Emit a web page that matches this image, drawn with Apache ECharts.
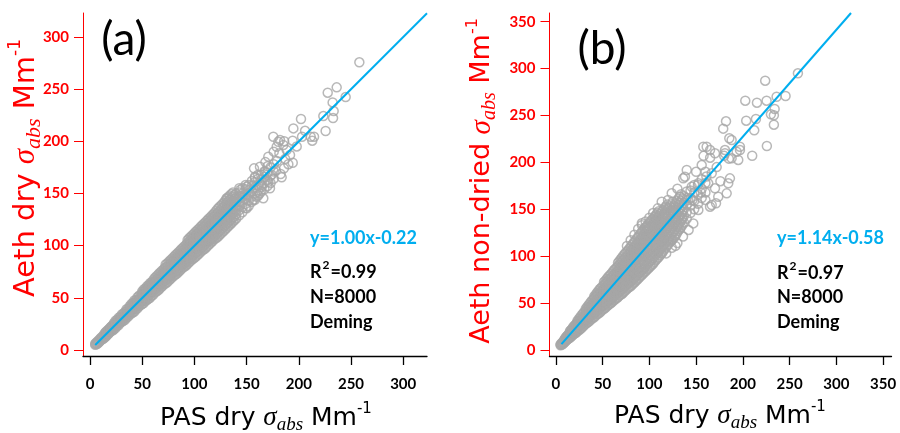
<!DOCTYPE html>
<html><head><meta charset="utf-8">
<script src="https://cdn.jsdelivr.net/npm/echarts@6/dist/echarts.min.js"></script>
<style>html,body{margin:0;padding:0;background:#fff}#c{width:900px;height:433px}</style>
</head><body><div id="c"></div>
<script>
// ---------- data ----------
const xTicksA = [0, 50, 100, 150, 200, 250, 300];
const yTicksA = [0, 50, 100, 150, 200, 250, 300];
const xTicksB = [0, 50, 100, 150, 200, 250, 300, 350];
const yTicksB = [0, 50, 100, 150, 200, 250, 300, 350];

// fit: [slope, intercept]
const fitA = [1.00, -0.22];
const fitB = [1.14, -0.58];

const statsA = ['y=1.00x-0.22', '0.99', 'N=8000', 'Deming'];
const statsB = ['y=1.14x-0.58', '0.97', 'N=8000', 'Deming'];

// dense cloud, panel (a): rows of [x, y1, y2, ...]
const bandA = [
  [5, 5, 6], [7, 6, 8], [9, 8, 10], [11, 10, 12], [13, 11, 12, 14],
  [15, 13, 15, 17], [17, 15, 17, 19], [19, 17, 19, 21], [21, 19, 21, 23],
  [23, 20, 22, 24, 26], [26, 23, 25, 27, 29], [29, 26, 28, 30, 32],
  [32, 28, 30, 33, 35], [35, 31, 33, 35, 37, 39], [38, 34, 36, 38, 40, 42],
  [41, 36, 39, 41, 43, 45], [44, 39, 41, 44, 46, 48], [47, 42, 44, 47, 49, 52],
  [50, 44, 47, 49, 52, 54, 56], [53, 47, 49, 52, 54, 57, 59], [56, 49, 52, 55, 57, 60, 62],
  [59, 52, 55, 58, 60, 63, 65], [62, 55, 58, 61, 63, 66, 69], [65, 57, 60, 63, 66, 69, 72],
  [68, 60, 63, 66, 69, 72, 75], [71, 63, 66, 69, 72, 75, 78],
  [74, 65, 68, 71, 74, 77, 80, 83], [77, 68, 71, 74, 77, 80, 83, 86],
  [80, 71, 74, 77, 80, 83, 86, 89], [83, 73, 76, 80, 83, 86, 89, 92],
  [86, 76, 79, 82, 86, 89, 92, 95], [89, 79, 82, 85, 89, 92, 95, 98],
  [92, 81, 84, 88, 91, 95, 98, 101], [95, 84, 87, 91, 94, 98, 101, 104, 107],
  [98, 87, 90, 94, 97, 101, 104, 107, 110], [101, 89, 93, 96, 100, 103, 107, 110, 113],
  [104, 92, 95, 99, 103, 106, 110, 113, 116], [107, 95, 98, 102, 105, 109, 112, 116, 119],
  [110, 97, 101, 104, 108, 112, 115, 119, 122], [113, 100, 104, 107, 111, 115, 118, 122, 125],
  [116, 103, 106, 110, 114, 118, 121, 125, 128], [119, 106, 109, 113, 117, 121, 124, 128, 131],
  [122, 108, 112, 116, 120, 124, 127, 131, 135], [125, 111, 115, 119, 123, 127, 130, 134, 138],
  [128, 114, 118, 122, 126, 130, 133, 137, 141], [131, 117, 121, 125, 129, 133, 137, 141, 145],
  [134, 120, 124, 128, 132, 136, 140, 144, 148], [137, 123, 127, 131, 135, 139, 143, 147, 151],
  [140, 126, 130, 134, 138, 142, 146, 150], [143, 129, 134, 138, 142, 147, 151, 155],
  [146, 132, 137, 141, 146, 150, 155], [149, 136, 140, 145, 149, 154, 158],
  [152, 138, 143, 148, 153, 158], [155, 142, 147, 152, 157, 162],
  [158, 144, 150, 156, 161, 165], [161, 148, 153, 158, 164, 168],
  [164, 152, 158, 163, 168], [167, 154, 160, 166, 171], [170, 157, 163, 170, 176],
  [173, 160, 167, 175], [176, 164, 171, 178]
];
// dense cloud, panel (a), points lying between the rows above
const bandA2 = [
  [6, 5.5, 7], [8, 7, 9], [10, 9, 11], [12, 10.5, 13], [14, 12, 14, 16], [16, 14, 16, 18],
  [18, 16, 18, 20], [20, 18, 20, 22], [22, 19, 21.5, 24],
  [24.5, 21, 23.5, 26, 28], [27.5, 24, 26.5, 29, 31], [30.5, 27, 29, 31.5, 34],
  [33.5, 29, 31.5, 34, 36.5], [36.5, 32, 34.5, 37, 39.5], [39.5, 35, 37.5, 40, 42.5, 44],
  [42.5, 37, 40, 42.5, 45, 47.5], [45.5, 40, 43, 45.5, 48, 50.5], [48.5, 43, 45.5, 48, 50.5, 53],
  [51.5, 45, 48, 50.5, 53, 55.5, 58], [54.5, 48, 50.5, 53.5, 56, 58.5, 61],
  [57.5, 50, 53.5, 56.5, 59, 61.5, 64], [60.5, 53, 56.5, 59.5, 62, 64.5, 67],
  [63.5, 56, 59, 62, 65, 67.5, 70.5], [66.5, 58.5, 61.5, 64.5, 67.5, 70.5, 73.5],
  [69.5, 61.5, 64.5, 67.5, 70.5, 73.5, 76.5], [72.5, 64, 67, 70, 73, 76, 79, 82],
  [75.5, 66.5, 69.5, 72.5, 75.5, 78.5, 81.5, 84.5], [78.5, 69.5, 72.5, 75.5, 78.5, 81.5, 84.5, 87.5],
  [81.5, 72, 75, 78.5, 81.5, 84.5, 87.5, 90.5], [84.5, 74.5, 77.5, 81, 84.5, 87.5, 90.5, 93.5],
  [87.5, 77.5, 80.5, 83.5, 87.5, 90.5, 93.5, 96.5], [90.5, 80, 83, 86.5, 90, 93.5, 96.5, 99.5],
  [93.5, 82.5, 85.5, 89.5, 92.5, 96.5, 99.5, 102.5, 105.5], [96.5, 85.5, 88.5, 92.5, 95.5, 99.5, 102.5, 105.5, 108.5],
  [99.5, 88, 91.5, 95, 98.5, 102, 105.5, 108.5, 111.5], [102.5, 90.5, 94, 97.5, 101.5, 104.5, 108.5, 111.5, 114.5],
  [105.5, 93.5, 96.5, 100.5, 104, 107.5, 111, 114.5, 117.5], [108.5, 96, 99.5, 103, 106.5, 110.5, 113.5, 117.5, 120.5],
  [111.5, 98.5, 102.5, 105.5, 109.5, 113.5, 116.5, 120.5, 123.5], [114.5, 101.5, 105, 108.5, 112.5, 116.5, 119.5, 123.5, 126.5],
  [117.5, 104.5, 107.5, 111.5, 115.5, 119.5, 122.5, 126.5, 129.5], [120.5, 107, 110.5, 114.5, 118.5, 122.5, 125.5, 129.5, 133],
  [123.5, 109.5, 113.5, 117.5, 121.5, 125.5, 128.5, 132.5, 136.5], [126.5, 112.5, 116.5, 120.5, 124.5, 128.5, 131.5, 135.5, 139.5],
  [129.5, 115.5, 119.5, 123.5, 127.5, 131.5, 135, 139, 143], [132.5, 118.5, 122.5, 126.5, 130.5, 134.5, 138.5, 142.5, 146.5],
  [135.5, 121.5, 125.5, 129.5, 133.5, 137.5, 141.5, 145.5, 149.5], [138.5, 124.5, 128.5, 132.5, 136.5, 140.5, 144.5, 148.5]
];
// sparse points, panel (a): [x, y]
const spreadA = [
  [258.0, 275.6], [227.7, 246.5], [236.3, 251.6], [244.9, 242.3], [232.4, 237.2],
  [223.5, 224.1], [233.4, 228.9], [232.8, 222.2], [225.7, 209.8], [202.1, 221.3],
  [194.8, 212.3], [203.1, 204.3], [211.4, 204.3], [214.6, 204.3], [212.9, 200.5],
  [194.1, 200.5], [182.0, 201.1], [178.8, 194.7], [185.2, 196.4], [188.4, 191.6],
  [181.4, 188.4], [170.8, 185.2], [191.6, 186.8], [194.2, 179.4], [185.8, 174.0],
  [182.6, 168.6], [183.6, 165.4], [162.8, 175.6], [157.1, 174.0], [167.6, 170.8],
  [158.0, 166.0], [170.8, 161.2], [164.5, 156.4], [172.4, 154.9], [162.8, 150.1],
  [150.1, 156.4], [143.7, 153.3], [130.9, 145.3], [156.4, 143.7], [166.0, 145.3],
  [150.1, 135.7], [175.6, 204.3], [180.4, 199.5], [159.7, 146.8], [145.3, 146.8],
  [179.0, 181.0], [187.0, 183.0], [176.0, 190.0], [174.0, 168.0], [190.0, 178.0],
  [198.0, 195.0], [206.0, 210.0], [186.0, 200.0], [168.0, 180.0], [178.0, 172.0]
];

// dense cloud, panel (b): rows of [x, y1, y2, ...]
const bandB = [
  [5, 5, 6], [7, 6, 8], [9, 8, 10, 11], [11, 10, 12, 14], [13, 12, 14, 16],
  [15, 13, 16, 18, 20], [17, 15, 18, 20, 22], [19, 17, 20, 22, 25], [21, 18, 21, 24, 27],
  [23, 20, 23, 26, 29, 31], [26, 22, 26, 29, 32, 35], [29, 25, 29, 32, 35, 39],
  [32, 28, 31, 35, 38, 42, 44], [35, 30, 34, 38, 41, 45, 48], [38, 33, 37, 40, 44, 48, 52],
  [41, 35, 39, 43, 47, 51, 55, 57], [44, 38, 42, 46, 50, 54, 58, 61],
  [47, 40, 44, 49, 53, 57, 61, 65], [50, 43, 47, 51, 56, 60, 64, 68],
  [53, 45, 49, 54, 58, 63, 67, 71, 74], [56, 48, 52, 57, 61, 66, 70, 74, 78],
  [59, 50, 54, 59, 64, 68, 73, 77, 81], [62, 53, 57, 62, 67, 71, 76, 80, 85],
  [65, 55, 60, 65, 70, 74, 79, 83, 88], [68, 58, 62, 67, 72, 77, 82, 87, 91, 95],
  [71, 60, 65, 70, 75, 80, 85, 90, 95, 99], [74, 63, 68, 73, 78, 83, 88, 93, 98, 103],
  [77, 66, 71, 76, 81, 86, 91, 96, 101, 106], [80, 68, 73, 79, 84, 90, 95, 100, 105, 110],
  [83, 71, 76, 82, 87, 93, 98, 103, 109, 114], [86, 74, 79, 85, 90, 96, 101, 107, 112, 118],
  [89, 77, 82, 88, 94, 100, 105, 111, 116, 122], [92, 80, 85, 91, 97, 103, 109, 114, 120, 126],
  [95, 83, 88, 94, 100, 106, 112, 118, 124, 130], [98, 86, 92, 98, 104, 110, 116, 122, 128, 133],
  [101, 89, 95, 101, 107, 113, 119, 125, 131, 137], [104, 92, 98, 104, 110, 117, 123, 129, 135, 140],
  [107, 96, 102, 108, 114, 120, 126, 133, 139, 144], [110, 99, 105, 112, 118, 124, 130, 137, 143, 148],
  [113, 103, 109, 116, 122, 128, 134, 140, 147], [116, 107, 113, 119, 126, 132, 138, 145, 151],
  [119, 111, 117, 123, 130, 136, 142, 149, 155], [122, 115, 121, 128, 134, 140, 147, 153],
  [125, 118, 125, 132, 138, 145, 151, 158], [128, 122, 129, 136, 142, 149, 156],
  [131, 127, 134, 141, 148, 155, 161], [134, 131, 138, 145, 152, 159, 166],
  [137, 136, 143, 150, 157, 164], [140, 140, 147, 155, 162, 169],
  [144, 146, 154, 162, 170], [148, 150, 159, 168, 176], [152, 156, 166, 176],
  [156, 162, 172, 182], [160, 168, 178, 190]
];
// dense cloud, panel (b), points lying between the rows above
const bandB2 = [
  [6, 5.5, 7], [8, 7, 9], [10, 9, 11, 12.5], [12, 11, 13, 15], [14, 12.5, 15, 17],
  [16, 14, 17, 19, 21], [18, 16, 19, 21, 23.5], [20, 17.5, 20.5, 23, 26], [22, 19, 22.5, 25.5, 28],
  [24.5, 21, 24.5, 27.5, 30.5, 33], [27.5, 23.5, 27.5, 30.5, 33.5, 37], [30.5, 26.5, 30, 33.5, 37, 40.5],
  [33.5, 29, 32.5, 36.5, 40, 43, 46], [36.5, 31.5, 35.5, 39, 43, 46.5, 50], [39.5, 34, 38, 41.5, 45.5, 49.5, 53.5],
  [42.5, 36.5, 40.5, 44.5, 48.5, 52.5, 56.5, 59], [45.5, 39, 43, 47.5, 51.5, 55.5, 59.5, 63],
  [48.5, 41.5, 45.5, 50, 54.5, 58.5, 62.5, 66.5], [51.5, 44, 48, 52.5, 57, 61.5, 65.5, 69.5, 72.5],
  [54.5, 46.5, 50.5, 55.5, 59.5, 64.5, 68.5, 72.5, 76], [57.5, 49, 53, 58, 62.5, 67, 71.5, 75.5, 79.5],
  [60.5, 51.5, 55.5, 60.5, 65.5, 69.5, 74.5, 78.5, 83], [63.5, 54, 58.5, 63.5, 68.5, 72.5, 77.5, 81.5, 86.5],
  [66.5, 56.5, 61, 66, 71, 75.5, 80.5, 85, 89.5, 93], [69.5, 59, 63.5, 68.5, 73.5, 78.5, 83.5, 88.5, 93, 97],
  [72.5, 61.5, 66.5, 71.5, 76.5, 81.5, 86.5, 91.5, 96.5, 101], [75.5, 64.5, 69.5, 74.5, 79.5, 84.5, 89.5, 94.5, 99.5, 104.5],
  [78.5, 67, 72, 77.5, 82.5, 88, 93, 98, 103, 108], [81.5, 69.5, 74.5, 80.5, 85.5, 91.5, 96.5, 101.5, 107, 112],
  [84.5, 72.5, 77.5, 83.5, 88.5, 94.5, 99.5, 105, 110.5, 116], [87.5, 75.5, 80.5, 86.5, 92, 98, 103, 109, 114, 120],
  [90.5, 78.5, 83.5, 89.5, 95.5, 101.5, 107, 112.5, 118, 124], [93.5, 81.5, 86.5, 92.5, 98.5, 104.5, 110.5, 116, 122, 128],
  [96.5, 84.5, 90, 96, 102, 108, 114, 120, 126, 131.5], [99.5, 87.5, 93.5, 99.5, 105.5, 111.5, 117.5, 123.5, 129.5, 135],
  [102.5, 90.5, 96.5, 102.5, 108.5, 115, 121, 127, 133, 138.5], [105.5, 94, 100, 106, 112, 118.5, 124.5, 131, 137, 142],
  [108.5, 97.5, 103.5, 110, 116, 122, 128, 135, 141, 146], [111.5, 101, 107, 114, 120, 126, 132, 138.5, 145],
  [114.5, 105, 111, 117.5, 124, 130, 136, 142.5, 149], [117.5, 109, 115, 121, 128, 134, 140, 147, 153],
  [120.5, 113, 119, 125.5, 132, 138, 144.5, 151], [123.5, 116.5, 123, 130, 136, 142.5, 149, 155.5],
  [126.5, 120, 127, 134, 140, 147, 153.5], [129.5, 124.5, 131.5, 138.5, 145, 152, 158.5],
  [132.5, 129, 136, 143, 150, 157, 163.5], [135.5, 133.5, 140.5, 147.5, 154.5, 161.5]
];
// sparse points, panel (b): [x, y]
const spreadB = [
  [258.9, 295.0], [223.9, 287.1], [236.1, 270.0], [245.7, 270.8], [225.4, 265.8],
  [215.1, 263.7], [202.6, 265.8], [234.0, 257.0], [230.0, 251.3], [233.2, 250.2],
  [214.0, 246.3], [203.6, 244.5], [182.0, 243.8], [179.0, 236.0], [212.2, 234.2],
  [233.2, 240.2], [185.5, 225.7], [225.7, 217.5], [210.0, 207.1], [196.9, 216.7],
  [180.0, 207.0], [185.0, 204.0], [161.3, 216.7], [158.0, 207.0], [165.0, 205.0],
  [184.4, 177.7], [171.3, 156.4], [164.9, 152.8], [136.3, 183.0], [140.0, 191.9],
  [161.0, 185.0], [196.9, 213.2], [180.9, 213.2], [188.0, 204.4], [157.7, 216.7],
  [164.9, 213.2], [138.1, 184.8], [152.4, 177.7], [170.2, 172.4], [182.7, 167.0],
  [193.4, 211.4], [170.2, 209.7], [180.9, 209.7], [156.0, 197.2], [166.7, 188.4],
  [166.7, 154.6], [152.4, 149.3], [123.9, 167.1], [113.2, 158.1], [145.3, 174.1],
  [141.7, 159.9], [106.1, 142.1], [131.0, 131.4], [113.2, 103.1], [91.9, 135.1],
  [95.4, 127.9], [188.0, 223.9], [195.1, 202.6], [186.2, 183.0], [163.0, 177.7],
  [173.7, 163.4], [127.5, 152.8], [116.8, 127.9], [123.9, 117.3], [150.0, 190.0],
  [172.0, 195.0], [176.0, 180.0], [146.0, 160.0], [155.0, 168.0], [130.0, 172.0],
  [120.0, 160.0], [135.0, 140.0], [102.0, 125.0], [118.0, 145.0], [160.0, 160.0],
  [76.0, 111.0], [80.0, 117.0], [84.0, 123.0], [88.0, 129.0], [92.0, 133.0],
  [96.0, 137.0], [100.0, 141.0], [104.0, 146.0], [109.0, 151.0], [98.0, 131.0],
  [118.0, 103.0], [124.0, 109.0], [130.0, 114.0], [136.0, 121.0], [128.0, 111.0],
  [142.0, 128.0], [147.0, 135.0]
];

// ---------- build ----------
function rowsToPoints(rows) {
  const out = [];
  rows.forEach(r => { for (let i = 1; i < r.length; i++) out.push([r[0], r[i]]); });
  return out;
}
const ptsA = rowsToPoints(bandA).concat(rowsToPoints(bandA2), spreadA);
const ptsB = rowsToPoints(bandB).concat(rowsToPoints(bandB2), spreadB);

const RANGE_A = { xmin: -6.7, xmax: 322.8, ymin: -5.7, ymax: 322.8 };
const RANGE_B = { xmin: -6.8, xmax: 359.0, ymin: -6.4, ymax: 359.3 };

const lineA = [[5, fitA[0] * 5 + fitA[1]], [RANGE_A.xmax, fitA[0] * RANGE_A.xmax + fitA[1]]];
const xEndB = (RANGE_B.ymax - fitB[1]) / fitB[0];
const lineB = [[6, fitB[0] * 6 + fitB[1]], [xEndB, RANGE_B.ymax]];

const RED = '#ff0000', GRAY = '#a6a6a6', BLUE = '#00aeef';
const FONT = 'Lato, "Open Sans", sans-serif';
const TFONT = '"DejaVu Sans", sans-serif';
const SERIF = '"Liberation Serif", "DejaVu Serif", serif';

function xAx(idx, r, ticks) {
  return {
    type: 'value', gridIndex: idx, min: r.xmin, max: r.xmax,
    axisLine: { show: true, onZero: false, lineStyle: { color: '#000', width: 1.3 } },
    axisTick: { show: true, customValues: ticks, length: 9, lineStyle: { color: '#000', width: 1.3 } },
    axisLabel: { customValues: ticks, margin: 21, color: '#000', fontWeight: 'bold', fontSize: 15, fontFamily: FONT },
    splitLine: { show: false }
  };
}
function yAx(idx, r, ticks) {
  return {
    type: 'value', gridIndex: idx, min: r.ymin, max: r.ymax,
    axisLine: { show: true, onZero: false, lineStyle: { color: RED, width: 1 } },
    axisTick: { show: true, customValues: ticks, length: 9, lineStyle: { color: RED, width: 1 } },
    axisLabel: { customValues: ticks, margin: 14, color: RED, fontWeight: 'bold', fontSize: 15, fontFamily: FONT },
    splitLine: { show: false }
  };
}

function titleRich(color, fs) {
  return {
    n: { fontSize: fs, fontFamily: TFONT, fill: color, lineHeight: Math.round(fs * 1.3) },
    s: { fontSize: Math.round(fs * 1.08), fontFamily: SERIF, fontStyle: 'italic', fill: color, lineHeight: Math.round(fs * 1.3) },
    sub: { fontSize: Math.round(fs * 0.75), fontFamily: SERIF, fontStyle: 'italic', fill: color, lineHeight: Math.round(fs * 0.55), verticalAlign: 'bottom' },
    sup: { fontSize: Math.round(fs * 0.6), fontFamily: TFONT, fill: color, lineHeight: Math.round(fs * 0.55), verticalAlign: 'top' }
  };
}
function statText(x, y, stats) {
  const base = { fontSize: 18, fontWeight: 'bold', fontFamily: FONT };
  return [
    { type: 'text', x: x, y: y[0], z: 100, style: Object.assign({ text: stats[0], fill: BLUE, verticalAlign: 'middle' }, base) },
    { type: 'text', x: x, y: y[1], z: 100, style: {
        text: '{n|R}{sup|2}{n|=' + stats[1] + '}', verticalAlign: 'middle',
        rich: {
          n: Object.assign({ fill: '#000', lineHeight: 26 }, base),
          sup: { fontSize: 12, fontWeight: 'bold', fontFamily: FONT, fill: '#000', lineHeight: 12, verticalAlign: 'top', padding: [0, 1, 0, 1] }
        } } },
    { type: 'text', x: x, y: y[2], z: 100, style: Object.assign({ text: stats[2], fill: '#000', verticalAlign: 'middle' }, base) },
    { type: 'text', x: x, y: y[3], z: 100, style: Object.assign({ text: stats[3], fill: '#000', verticalAlign: 'middle' }, base) }
  ];
}

const scatterStyle = { color: 'rgba(0,0,0,0)', borderColor: GRAY, borderWidth: 1.5 };
const XT = '{n|PAS dry }{s|σ}{sub|abs}{n| Mm}{sup|-1}';

const option = {
  animation: false,
  backgroundColor: '#fff',
  grid: [
    { left: 83, top: 13, width: 344, height: 343 },
    { left: 549.5, top: 13, width: 342, height: 343 }
  ],
  xAxis: [xAx(0, RANGE_A, xTicksA), xAx(1, RANGE_B, xTicksB)],
  yAxis: [yAx(0, RANGE_A, yTicksA), yAx(1, RANGE_B, yTicksB)],
  series: [
    { type: 'scatter', xAxisIndex: 0, yAxisIndex: 0, data: ptsA, symbol: 'circle', symbolSize: 9, itemStyle: scatterStyle, silent: true, large: false },
    { type: 'line', xAxisIndex: 0, yAxisIndex: 0, data: lineA, symbol: 'none', lineStyle: { color: BLUE, width: 2 }, z: 5, silent: true },
    { type: 'scatter', xAxisIndex: 1, yAxisIndex: 1, data: ptsB, symbol: 'circle', symbolSize: 9, itemStyle: scatterStyle, silent: true, large: false },
    { type: 'line', xAxisIndex: 1, yAxisIndex: 1, data: lineB, symbol: 'none', lineStyle: { color: BLUE, width: 2 }, z: 5, silent: true }
  ],
  graphic: [
    { type: 'text', x: 124, y: 40, z: 100, style: { text: '(a)', fontSize: 46, fontFamily: FONT, fill: '#000', align: 'center', verticalAlign: 'middle' } },
    { type: 'text', x: 602, y: 49, z: 100, style: { text: '(b)', fontSize: 46, fontFamily: FONT, fill: '#000', align: 'center', verticalAlign: 'middle' } },
    { type: 'text', x: 266, y: 418, z: 100, style: { text: XT, rich: titleRich('#000', 25), align: 'center', verticalAlign: 'middle' } },
    { type: 'text', x: 720, y: 416, z: 100, style: { text: XT, rich: titleRich('#000', 25), align: 'center', verticalAlign: 'middle' } },
    { type: 'text', x: 26, y: 168, rotation: Math.PI / 2, z: 100, style: { text: '{n|Aeth dry }{s|σ}{sub|abs}{n| Mm}{sup|-1}', rich: titleRich(RED, 29), align: 'center', verticalAlign: 'middle' } },
    { type: 'text', x: 482, y: 181, rotation: Math.PI / 2, z: 100, style: { text: '{n|Aeth non-dried }{s|σ}{sub|abs}{n| Mm}{sup|-1}', rich: titleRich(RED, 27), align: 'center', verticalAlign: 'middle' } }
  ].concat(statText(310, [238, 272, 297, 322], statsA)).concat(statText(777, [238, 273, 297, 322], statsB))
};

const chart = echarts.init(document.getElementById('c'), null, { renderer: 'canvas' });
chart.setOption(option);
</script>
</body></html>
